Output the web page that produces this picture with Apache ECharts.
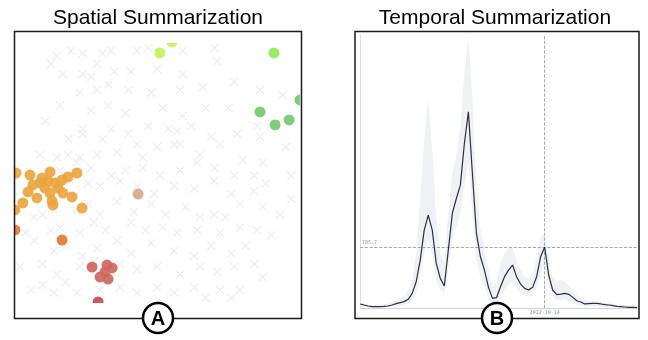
<!DOCTYPE html>
<html>
<head>
<meta charset="utf-8">
<script src="https://cdn.jsdelivr.net/npm/echarts@6/dist/echarts.min.js"></script>
<style>
  html, body { margin: 0; padding: 0; background: #fff; }
  #chart { width: 648px; height: 340px; }
</style>
</head>
<body>
<div id="chart"></div>
<script>
// ---- spatial panel (x, y in 0..100 map units) ----
const backgroundPoints = [
  [15,95],[20,97],[24,96],[31,96],[34,97],[43,97],[13,92],[17,88],[24,88],[29,92],[35,89],[41,89],[50,90],[27,87],
  [23,81],[29,82],[33,84],[40,82],[48,81],[16,76],[27,74],[33,76],[39,73],[11,70],[24,67],[34,67],[40,65],[47,68],
  [19,63],[24,65],[31,63],[43,61],[50,60],[9,57],[15,56],[19,57],[23,56],[29,57],[36,58],[45,56],
  [47,98],[59,97],[70,98],[71,93],[59,88],[48,81],[58,82],[66,83],[77,85],[86,82],[94,80],[52,75],[59,72],[67,75],
  [75,75],[54,67],[57,66],[62,68],[69,64],[78,65],[85,68],[86,64],
  [95,60],[56,61],[58,61],[65,57],[72,61],[80,55],[87,54],
  [16,51],[22,54],[27,52],[34,49],[39,51],[45,52],[51,49],[58,51],[64,54],[70,52],[77,49],[84,49],[97,49],
  [26,46],[30,45],[37,47],[43,45],[49,42],[56,45],[63,44],[70,47],[76,42],[84,43],[88,46],[97,40],
  [7,33],[10,34],[14,36],[22,36],[26,38],[30,34],[36,39],[42,35],[48,38],[53,34],[60,37],[65,33],[70,34],[74,33],[79,38],[87,37],[93,34],
  [4,27],[13,28],[16,29],[23,27],[28,31],[32,28],[41,31],[46,28],[52,29],[57,27],[64,28],[72,27],[79,29],[85,28],[90,26],
  [7,24],[14,20],[18,22],[24,18],[29,21],[36,24],[41,19],[48,23],[56,20],[63,18],[69,22],[76,19],[81,22],
  [2,14],[10,15],[15,11],[23,14],[28,16],[37,15],[43,13],[50,14],[58,11],[65,14],[71,12],[77,14],[84,15],[87,10],
  [6,5],[10,7],[14,4],[18,8],[22,4],[30,5],[37,6],[43,4],[50,6],[56,4],[63,6],[67,2],[72,5],[76,2],[79,5]
];
const westCluster = [
  [0.7,50.0],[5.6,49.2],[12.6,50.4],[22.0,50.0],[9.8,48.1],[9.1,46.2],[11.9,46.9],[14.3,46.2],[16.8,47.3],
  [18.9,48.5],[6.6,45.4],[10.8,44.2],[15.4,44.2],[4.9,42.7],[12.6,42.3],[17.1,42.3],[3.1,38.5],[8.0,40.4],
  [13.3,39.2],[13.6,37.7],[20.3,40.8],[23.8,36.5],[0.3,35.8]
];
const southWestCluster = [[0.3,28.1],[16.8,24.2]];
const southCluster = [[27.3,13.8],[32.5,14.6],[34.3,13.5],[31.8,11.9],[30.1,10.0],[32.9,9.2]];
const farSouthCluster = [[29.4,0.4]];
const centerCluster = [[43.4,41.9]];
const northCluster = [[55.2,100.4],[51.0,96.2]];
const northEastCluster = [[90.9,96.2]];
const eastCluster = [[100,78.1],[86.0,73.5],[91.3,68.5],[96.2,70.4]];

// ---- temporal panel ----
const dates = [
  '2021-01-08','2021-01-22','2021-02-05','2021-02-19','2021-03-05','2021-03-19','2021-04-02','2021-04-16',
  '2021-04-30','2021-05-14','2021-05-28','2021-06-11','2021-06-25','2021-07-09','2021-07-23','2021-08-06',
  '2021-08-20','2021-09-03','2021-09-17','2021-10-01','2021-10-15','2021-10-29','2021-11-12','2021-11-26',
  '2021-12-10','2021-12-24','2022-01-07','2022-01-21','2022-02-04','2022-02-18','2022-03-04','2022-03-18',
  '2022-04-01','2022-04-15','2022-04-29','2022-05-13','2022-05-27','2022-06-10','2022-06-24','2022-07-08',
  '2022-07-22','2022-08-05','2022-08-19','2022-09-02','2022-09-16','2022-09-30','2022-10-14','2022-10-28',
  '2022-11-11','2022-11-25','2022-12-09','2022-12-23','2023-01-06','2023-01-20','2023-02-03','2023-02-17',
  '2023-03-03','2023-03-17','2023-03-31','2023-04-14','2023-04-28','2023-05-12','2023-05-26','2023-06-09',
  '2023-06-23','2023-07-07','2023-07-21','2023-08-04','2023-08-18','2023-09-01'
];
const meanValues = [
  52,39,26,17,17,17,21,26,39,56,69,82,112,189,339,618,1005,1198,1005,575,382,283,747,1219,
  1412,1584,2121,2529,1734,962,661,489,266,124,133,275,404,489,554,404,309,253,232,266,404,661,
  785.7,425,232,172,180,189,176,137,94,77,52,56,60,60,52,43,39,30,21,17,13,9,9,4
];
const upperValues = [
  82,60,47,43,43,47,52,60,82,103,124,155,232,361,704,1391,2164,2700,2035,1176,704,575,1219,1734,
  1949,2335,3022,3494,2679,1563,1005,747,489,275,339,575,704,768,790,618,489,404,382,446,661,919,
  962,618,404,339,361,339,275,232,167,124,103,94,90,82,77,69,60,52,43,39,34,30,26,21
];
const lowerValues = [
  26,17,9,4,4,4,9,13,17,26,34,43,60,103,189,404,704,876,704,361,232,189,489,876,
  1048,1219,1563,1906,1219,618,404,275,124,52,60,146,232,296,339,253,189,155,146,167,275,446,
  575,275,146,103,103,112,94,69,43,34,26,26,21,21,17,17,13,13,9,9,4,4,4,4
];
const crossDate = '2022-10-14';
const crossValue = 785.7;

const FONT = '"Liberation Sans", Arial, sans-serif';
const crossSymbol = 'path://M1,0L5,4L9,0L10,1L6,5L10,9L9,10L5,6L1,10L0,9L4,5L0,1Z';

function dotSeries(data, color) {
  return {
    type: 'scatter', xAxisIndex: 0, yAxisIndex: 0, data: data,
    symbolSize: 11, clip: false,
    itemStyle: { color: color, opacity: 0.92 }
  };
}

// white strips that hide the parts of dots falling outside the map window
function mask(x, y, w, h) {
  return { type: 'rect', z: 40, silent: true, shape: { x: x, y: y, width: w, height: h }, style: { fill: '#fff' } };
}

const chart = echarts.init(document.getElementById('chart'), null, { renderer: 'canvas' });

chart.setOption({
  animation: false,
  grid: [
    { left: 14, top: 43, width: 286, height: 260 },
    { left: 360, top: 35, width: 277, height: 273 }
  ],
  xAxis: [
    { gridIndex: 0, type: 'value', min: 0, max: 100, show: false },
    {
      gridIndex: 1, type: 'category', data: dates, boundaryGap: false,
      axisLine: { lineStyle: { color: '#cfd3dd', width: 1 } },
      axisTick: { show: false }, axisLabel: { show: false }, splitLine: { show: false }
    }
  ],
  yAxis: [
    { gridIndex: 0, type: 'value', min: 0, max: 100, show: false },
    {
      gridIndex: 1, type: 'value', min: 0, max: 3520,
      axisLine: { show: true, lineStyle: { color: '#dadde4', width: 1 } },
      axisTick: { show: false }, axisLabel: { show: false }, splitLine: { show: false }
    }
  ],
  series: [
    {
      type: 'scatter', xAxisIndex: 0, yAxisIndex: 0, data: backgroundPoints,
      symbol: crossSymbol, symbolSize: 9,
      itemStyle: { color: '#eaeaea' }
    },
    dotSeries(westCluster, '#e9a640'),
    dotSeries(southWestCluster, '#e07838'),
    dotSeries(southCluster, '#cd6862'),
    dotSeries(farSouthCluster, '#c84a52'),
    dotSeries(centerCluster, '#d4aa8c'),
    dotSeries(northCluster, '#c6f25a'),
    dotSeries(northEastCluster, '#8fe85a'),
    dotSeries(eastCluster, '#76c870'),
    {
      type: 'line', xAxisIndex: 1, yAxisIndex: 1, data: lowerValues,
      stack: 'band', symbol: 'none', silent: true,
      lineStyle: { opacity: 0 }, areaStyle: { opacity: 0 }
    },
    {
      type: 'line', xAxisIndex: 1, yAxisIndex: 1,
      data: upperValues.map((v, i) => v - lowerValues[i]),
      stack: 'band', symbol: 'none', silent: true,
      lineStyle: { opacity: 0 }, areaStyle: { color: '#f0f1f4', opacity: 1 }
    },
    {
      type: 'line', xAxisIndex: 1, yAxisIndex: 1, data: meanValues,
      symbol: 'none', z: 5,
      lineStyle: { color: '#2c303a', width: 1.2 },
      markLine: {
        silent: true, symbol: ['none', 'none'], animation: false,
        lineStyle: { type: 'dashed', color: '#8f939c', width: 0.8 },
        label: { fontSize: 5, color: '#8a90a0', fontFamily: 'DejaVu Sans Mono' },
        data: [
          { yAxis: crossValue, label: { position: 'insideStartTop', formatter: String(crossValue), distance: 2 } },
          { xAxis: crossDate, label: { position: 'start', formatter: crossDate, distance: 2 } }
        ]
      }
    }
  ],
  graphic: [
    mask(0, 20, 14.5, 310),
    mask(14.5, 31, 288, 12),
    mask(14.5, 303, 288, 16),
    mask(300, 31, 54, 288),
    { type: 'rect', z: 50, shape: { x: 14.5, y: 31.5, width: 287, height: 287 },
      style: { fill: 'none', stroke: '#1a1a1a', lineWidth: 1.5 } },
    { type: 'rect', z: 50, shape: { x: 355, y: 31.5, width: 284, height: 287 },
      style: { fill: 'none', stroke: '#1a1a1a', lineWidth: 1.5 } },
    { type: 'text', z: 50, x: 158, y: 18,
      style: { text: 'Spatial Summarization', font: '21px ' + FONT, fill: '#000', textAlign: 'center', textVerticalAlign: 'middle' } },
    { type: 'text', z: 50, x: 495, y: 18,
      style: { text: 'Temporal Summarization', font: '21px ' + FONT, fill: '#000', textAlign: 'center', textVerticalAlign: 'middle' } },
    { type: 'circle', z: 60, shape: { cx: 158, cy: 318, r: 15 },
      style: { fill: '#fff', stroke: '#000', lineWidth: 2.5 } },
    { type: 'text', z: 61, x: 158, y: 319,
      style: { text: 'A', font: 'bold 20px ' + FONT, fill: '#000', textAlign: 'center', textVerticalAlign: 'middle' } },
    { type: 'circle', z: 60, shape: { cx: 497, cy: 318, r: 15 },
      style: { fill: '#fff', stroke: '#000', lineWidth: 2.5 } },
    { type: 'text', z: 61, x: 497, y: 319,
      style: { text: 'B', font: 'bold 20px ' + FONT, fill: '#000', textAlign: 'center', textVerticalAlign: 'middle' } }
  ]
});
</script>
</body>
</html>
